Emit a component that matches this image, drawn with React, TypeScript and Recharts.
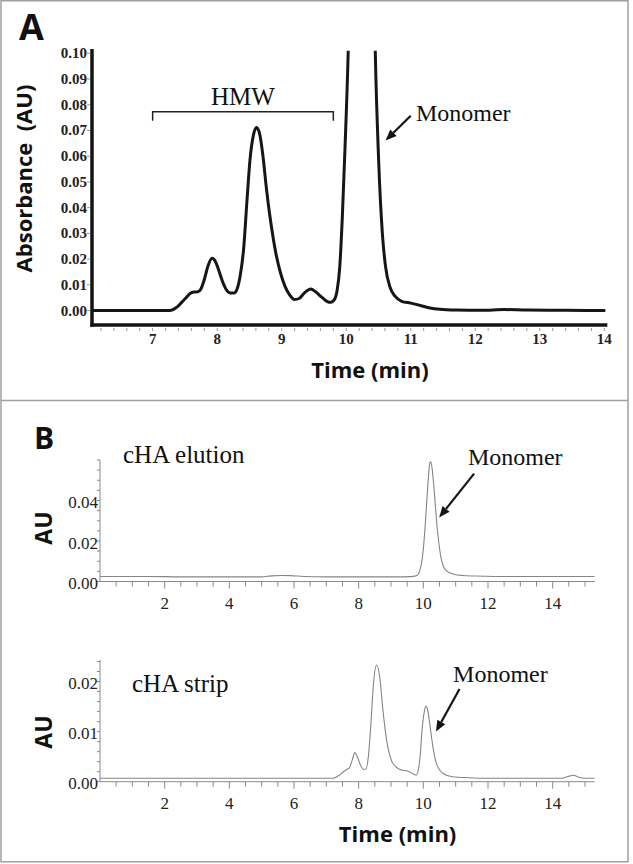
import type { JSX } from 'react';
import {
  Line,
  LineChart,
  ReferenceDot,
  ReferenceLine,
  XAxis,
  YAxis,
} from 'recharts';

// ---- panel A: SEC trace, 6-14 min ----
const aTime = [
  6.06, 7.26, 7.33, 7.39, 7.45, 7.51, 7.58, 7.64, 7.7, 7.75, 7.8, 7.86, 7.92,
  7.97, 8.02, 8.08, 8.14, 8.21, 8.26, 8.31, 8.36, 8.41, 8.46, 8.51, 8.56, 8.61,
  8.66, 8.71, 8.76, 8.81, 8.86, 8.92, 8.98, 9.05, 9.12, 9.2, 9.27, 9.35, 9.45,
  9.53, 9.62, 9.7, 9.76, 9.81, 9.86, 9.9, 9.94, 9.98, 10.03, 10.08, 10.15,
  10.25, 10.35, 10.41, 10.45, 10.5, 10.56, 10.61, 10.68, 10.76, 10.86, 11.0,
  11.15, 11.3, 11.45, 11.7, 12.1, 12.45, 12.8, 13.4, 14.02,
];
const aAbsorbance = [
  0, 0, 0.0006, 0.0016, 0.0032, 0.0048, 0.0066, 0.0072, 0.0073, 0.0085, 0.012,
  0.0175, 0.0203, 0.0192, 0.016, 0.0115, 0.0082, 0.0068, 0.0068, 0.0085, 0.014,
  0.024, 0.042, 0.059, 0.068, 0.0712, 0.0685, 0.06, 0.0482, 0.038, 0.0295,
  0.021, 0.0148, 0.0095, 0.0062, 0.0043, 0.0047, 0.0068, 0.0084, 0.0072,
  0.0052, 0.0036, 0.0032, 0.004, 0.008, 0.017, 0.0365, 0.0624, 0.1, 0.16, 0.26,
  0.3, 0.26, 0.16, 0.101, 0.06, 0.03, 0.017, 0.009, 0.0055, 0.0036, 0.0029,
  0.002, 0.001, 0.0005, 0.0002, 0.0001, 0.0004, 0.0002, 0.0001, 0,
];
const aTimeLabels = [7, 8, 9, 10, 11, 12, 13, 14];
const aAbsTicks = [0, 0.01, 0.02, 0.03, 0.04, 0.05, 0.06, 0.07, 0.08, 0.09, 0.1];

// ---- panel B, top: cHA elution ----
const elutionTime = [
  0, 1.5, 2.5, 5.0, 5.3, 5.6, 5.9, 6.3, 7.0, 9.0, 9.6, 9.8, 9.9, 9.95, 10.0,
  10.05, 10.1, 10.15, 10.2, 10.23, 10.27, 10.32, 10.37, 10.42, 10.48, 10.55,
  10.62, 10.7, 10.8, 10.95, 11.2, 11.6, 12.2, 15.3,
];
const elutionAu = [
  0.0025, 0.0025, 0.0023, 0.0023, 0.0028, 0.003, 0.0029, 0.0025, 0.0023,
  0.0023, 0.0024, 0.003, 0.006, 0.0095, 0.016, 0.026, 0.038, 0.05, 0.0585,
  0.0591, 0.056, 0.048, 0.038, 0.028, 0.019, 0.0115, 0.0075, 0.0055, 0.0044,
  0.0036, 0.003, 0.0027, 0.0025, 0.0025,
];
const elutionAuLabels = [0, 0.02, 0.04];

// ---- panel B, bottom: cHA strip ----
const stripTime = [
  0, 7.2, 7.4, 7.55, 7.65, 7.72, 7.8, 7.88, 7.96, 8.05, 8.15, 8.22, 8.3, 8.38,
  8.46, 8.55, 8.65, 8.75, 8.88, 9.03, 9.2, 9.35, 9.48, 9.6, 9.7, 9.78, 9.85,
  9.9, 9.96, 10.03, 10.09, 10.15, 10.22, 10.3, 10.4, 10.5, 10.6, 10.9, 11.4,
  12.0, 14.3, 14.5, 14.65, 14.8, 15.0, 15.3,
];
const stripAu = [
  0.0007, 0.0007, 0.0013, 0.0021, 0.0025, 0.0028, 0.0043, 0.0058, 0.005,
  0.0034, 0.0025, 0.0025, 0.005, 0.0117, 0.0197, 0.0233, 0.021, 0.0143, 0.0077,
  0.004, 0.0027, 0.0023, 0.0022, 0.0019, 0.0015, 0.0013, 0.0025, 0.005, 0.0103,
  0.014, 0.0151, 0.0138, 0.0105, 0.0068, 0.0037, 0.0024, 0.0017, 0.001, 0.0008,
  0.0007, 0.0007, 0.0011, 0.0013, 0.0009, 0.0007, 0.0007,
];
const stripAuLabels = [0, 0.01, 0.02];

const bTimeLabels = [2, 4, 6, 8, 10, 12, 14];

const panelAData = aTime.map((t, i) => ({ t, v: aAbsorbance[i] }));
const elutionData = elutionTime.map((t, i) => ({ t, v: elutionAu[i] }));
const stripData = stripTime.map((t, i) => ({ t, v: stripAu[i] }));

// minor tick positions
const aTimeTicks = Array.from({ length: 40 }, (_, i) => +(6.2 + i * 0.2).toFixed(1));
const bTimeTicks = Array.from({ length: 30 }, (_, i) => (i + 1) * 0.5);
const elutionAuTicks = Array.from({ length: 13 }, (_, i) => +(i * 0.005).toFixed(3));
const stripAuTicks = Array.from({ length: 13 }, (_, i) => +(i * 0.002).toFixed(3));

const SERIF = "'Liberation Serif', 'Times New Roman', serif";
const SANS = "'Open Sans', 'DejaVu Sans', sans-serif";
const INK = '#141414';
const frameLine = { stroke: INK, strokeWidth: 3.5, strokeLinecap: 'square' as const };
const thinAxis = { stroke: '#8a8a8a', strokeWidth: 1 };
const serifBold = { fontFamily: SERIF, fontWeight: 700, fontSize: 15 };
const serifPlain = { fontFamily: SERIF, fontWeight: 400, fontSize: 17 };

const near = (a: number, list: number[]) => list.some((b) => Math.abs(a - b) < 1e-6);

function ATimeTick({ x, y, payload }: any): JSX.Element {
  const v = payload.value;
  return (
    <g>
      <line x1={x} x2={x} y1={y + 3} y2={y + 6} stroke="#999" strokeWidth={1} />
      {near(v, aTimeLabels) && (
        <text x={x} y={y + 14} textAnchor="middle" dominantBaseline="central"
          style={serifBold} fill="#222">
          {Math.round(v)}
        </text>
      )}
    </g>
  );
}

function AAbsTick({ x, y, payload }: any): JSX.Element {
  return (
    <g>
      <line x1={x - 5} x2={x - 2} y1={y} y2={y} stroke="#999" strokeWidth={1} />
      <text x={x - 5} y={y} textAnchor="end" dominantBaseline="central"
        style={serifBold} fill="#222">
        {payload.value.toFixed(2)}
      </text>
    </g>
  );
}

function BTimeTick({ x, y, payload }: any): JSX.Element {
  const v = payload.value;
  const major = near(v, bTimeLabels);
  return (
    <g>
      <line x1={x} x2={x} y1={y} y2={y + (major ? 7 : 5)} stroke="#8a8a8a" strokeWidth={1} />
      {major && (
        <text x={x} y={y + 21.5} textAnchor="middle" dominantBaseline="central"
          style={serifPlain} fill="#222">
          {v}
        </text>
      )}
    </g>
  );
}

function makeAuTick(labels: number[]) {
  return ({ x, y, payload }: any): JSX.Element => {
    const v = payload.value;
    return (
      <g>
        <line x1={x - 3} x2={x} y1={y} y2={y} stroke="#8a8a8a" strokeWidth={1} />
        {near(v, labels) && (
          <text x={x - 2} y={y + 2} textAnchor="end" dominantBaseline="central"
            style={serifPlain} fill="#222">
            {v.toFixed(2)}
          </text>
        )}
      </g>
    );
  };
}

function Arrow({ x1, y1, x2, y2 }: any): JSX.Element {
  const dx = x2 - x1;
  const dy = y2 - y1;
  const len = Math.hypot(dx, dy) || 1;
  const ux = dx / len;
  const uy = dy / len;
  const bx = x2 - ux * 11;
  const by = y2 - uy * 11;
  const hw = 4.5;
  return (
    <g>
      <line x1={x1} y1={y1} x2={bx} y2={by} stroke={INK} strokeWidth={2.2} />
      <polygon
        points={`${x2},${y2} ${bx - uy * hw},${by + ux * hw} ${bx + uy * hw},${by - ux * hw}`}
        fill={INK}
      />
    </g>
  );
}

function Bracket({ x1, y1, x2 }: any): JSX.Element {
  return (
    <path d={`M${x1},${y1 + 9} V${y1} H${x2} V${y1 + 9}`} fill="none" stroke="#222" strokeWidth={1.5} />
  );
}

function textShape(label: string, size: number, anchor: 'start' | 'middle' = 'start') {
  return ({ cx, cy }: any): JSX.Element => (
    <text x={cx} y={cy} textAnchor={anchor} style={{ fontFamily: SERIF, fontSize: size }} fill="#111">
      {label}
    </text>
  );
}

function PanelA(): JSX.Element {
  const xDomain: [number, number] = [6.06, 14.02];
  const yDomain: [number, number] = [-0.0056, 0.101];
  return (
    <LineChart width={633} height={400} data={panelAData}
      margin={{ top: 50.7, right: 27.4, bottom: 45, left: 0 }}>
      <XAxis dataKey="t" type="number" domain={xDomain} allowDataOverflow ticks={aTimeTicks}
        interval={0} height={30} tickSize={0} tickMargin={0} tickLine={false}
        tick={(p: any) => <ATimeTick {...p} />} axisLine={frameLine} />
      <XAxis xAxisId="top" orientation="top" type="number" domain={xDomain} allowDataOverflow
        height={0} tick={false} tickLine={false} axisLine={frameLine} />
      <YAxis type="number" domain={yDomain} allowDataOverflow ticks={aAbsTicks} interval={0}
        width={92} tickSize={0} tickMargin={0} tickLine={false}
        tick={(p: any) => <AAbsTick {...p} />} axisLine={frameLine} />
      <YAxis yAxisId="r" orientation="right" type="number" domain={yDomain} allowDataOverflow
        width={0} tick={false} tickLine={false} axisLine={frameLine} />
      <Line dataKey="v" type="monotone" stroke="#161616" strokeWidth={3} dot={false}
        isAnimationActive={false} />
      <ReferenceLine segment={[{ x: 7, y: 0.0773 }, { x: 9.8, y: 0.0773 }]} shape={Bracket} />
      <ReferenceDot x={8.4} y={0.0799} r={0} shape={textShape('HMW', 25, 'middle')} />
      <ReferenceLine segment={[{ x: 11.0, y: 0.0757 }, { x: 10.61, y: 0.0661 }]} shape={Arrow} />
      <ReferenceDot x={11.08} y={0.0738} r={0} shape={textShape('Monomer', 24)} />
    </LineChart>
  );
}

function ElutionChart(): JSX.Element {
  return (
    <LineChart width={633} height={220} data={elutionData}
      margin={{ top: 58, right: 38.3, bottom: 10.5, left: 0 }}>
      <XAxis dataKey="t" type="number" domain={[0, 15.3]} allowDataOverflow ticks={bTimeTicks}
        interval={0} height={30} tickSize={0} tickMargin={0} tickLine={false}
        tick={(p: any) => <BTimeTick {...p} />} axisLine={thinAxis} />
      <YAxis type="number" domain={[0, 0.06]} allowDataOverflow ticks={elutionAuTicks} interval={0}
        width={100} tickSize={0} tickMargin={0} tickLine={false}
        tick={makeAuTick(elutionAuLabels)} axisLine={thinAxis} />
      <Line dataKey="v" type="monotone" stroke="#858585" strokeWidth={1.1} dot={false}
        isAnimationActive={false} />
      <ReferenceLine segment={[{ x: 11.57, y: 0.0533 }, { x: 10.49, y: 0.0316 }]} shape={Arrow} />
      <ReferenceDot x={11.38} y={0.0573} r={0} shape={textShape('Monomer', 24)} />
    </LineChart>
  );
}

function StripChart(): JSX.Element {
  return (
    <LineChart width={633} height={242} data={stripData}
      margin={{ top: 38, right: 38.3, bottom: 52.3, left: 0 }}>
      <XAxis dataKey="t" type="number" domain={[0, 15.3]} allowDataOverflow ticks={bTimeTicks}
        interval={0} height={30} tickSize={0} tickMargin={0} tickLine={false}
        tick={(p: any) => <BTimeTick {...p} />} axisLine={thinAxis} />
      <YAxis type="number" domain={[0, 0.0243]} allowDataOverflow ticks={stripAuTicks} interval={0}
        width={100} tickSize={0} tickMargin={0} tickLine={false}
        tick={makeAuTick(stripAuLabels)} axisLine={thinAxis} />
      <Line dataKey="v" type="monotone" stroke="#858585" strokeWidth={1.1} dot={false}
        isAnimationActive={false} />
      <ReferenceLine segment={[{ x: 11.12, y: 0.0185 }, { x: 10.39, y: 0.01 }]} shape={Arrow} />
      <ReferenceDot x={10.92} y={0.02} r={0} shape={textShape('Monomer', 24)} />
    </LineChart>
  );
}

export default function App(): JSX.Element {
  const title = { fontFamily: SANS, fontWeight: 700 };
  return (
    <div style={{ position: 'absolute', left: 0, top: 0, width: 633, height: 864, background: '#fff', overflow: 'hidden' }}>
      <div style={{ position: 'absolute', left: 0, top: 0 }}>
        <PanelA />
      </div>
      <div style={{ position: 'absolute', left: 0, top: 402 }}>
        <ElutionChart />
      </div>
      <div style={{ position: 'absolute', left: 0, top: 622 }}>
        <StripChart />
      </div>
      <svg width={633} height={864} style={{ position: 'absolute', left: 0, top: 0, pointerEvents: 'none' }}>
        <rect x={1} y={0.75} width={627} height={861} fill="none" stroke="#a0a0a0" strokeWidth={1.5} />
        <line x1={1} x2={628} y1={400.5} y2={400.5} stroke="#a0a0a0" strokeWidth={1.5} />
        <text x={19} y={40} style={{ ...title, fontSize: 36 }} fill="#111">A</text>
        <text x={23} y={178.5} textAnchor="middle" dominantBaseline="central"
          transform="rotate(-90 23 178.5)" style={{ ...title, fontSize: 22, whiteSpace: 'pre' }} fill="#111">
          {'Absorbance  (AU)'}
        </text>
        <text x={370} y={369} textAnchor="middle" dominantBaseline="central"
          style={{ ...title, fontSize: 22 }} fill="#111">
          Time (min)
        </text>
        <text x={34} y={449} style={{ ...title, fontSize: 30 }} fill="#111">B</text>
        <text x={123} y={463} style={{ fontFamily: SERIF, fontSize: 25 }} fill="#111">cHA elution</text>
        <text x={43} y={528} textAnchor="middle" dominantBaseline="central"
          transform="rotate(-90 43 528)" style={{ ...title, fontSize: 23 }} fill="#111">AU</text>
        <text x={132} y={691.5} style={{ fontFamily: SERIF, fontSize: 25 }} fill="#111">cHA strip</text>
        <text x={43} y={732} textAnchor="middle" dominantBaseline="central"
          transform="rotate(-90 43 732)" style={{ ...title, fontSize: 23 }} fill="#111">AU</text>
        <text x={397.6} y={833} textAnchor="middle" dominantBaseline="central"
          style={{ ...title, fontSize: 22 }} fill="#111">
          Time (min)
        </text>
      </svg>
    </div>
  );
}
